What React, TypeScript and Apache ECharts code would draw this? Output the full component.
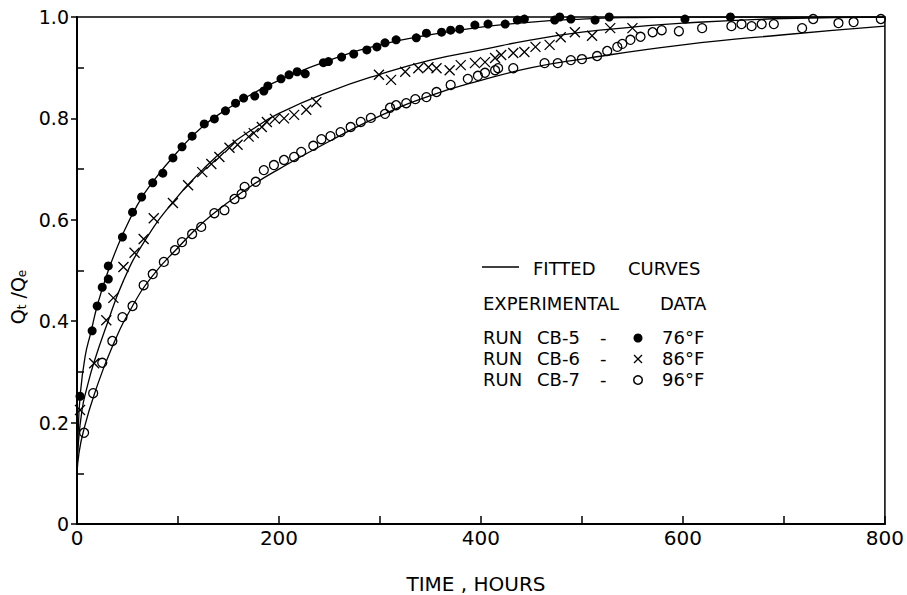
import React, { useEffect, useRef } from "react";
import * as echarts from "echarts";

// ---- data ----
const cb5Points: number[][] = [
  [3, 0.252], [15, 0.381], [20, 0.43], [25, 0.467], [31, 0.483], [31, 0.509], [45, 0.566], [55, 0.615],
  [64, 0.645], [75, 0.673], [85, 0.692], [95, 0.722], [104, 0.744], [114, 0.765], [126, 0.789], [136, 0.799],
  [147, 0.815], [157, 0.83], [165, 0.84], [176, 0.844], [185, 0.854], [189, 0.864], [202, 0.878], [210, 0.886],
  [218, 0.892], [226, 0.888], [244, 0.91], [249, 0.912], [262, 0.921], [274, 0.927], [287, 0.935], [297, 0.941],
  [305, 0.949], [316, 0.955], [336, 0.959], [346, 0.968], [361, 0.97], [370, 0.974], [379, 0.976], [394, 0.984],
  [407, 0.986], [424, 0.986], [436, 0.994], [443, 0.996], [473, 0.994], [478, 1.0], [489, 0.996], [502, 1.003],
  [513, 0.994], [527, 1.0], [602, 0.996], [647, 1.0],
];

const cb6Points: number[][] = [
  [3, 0.225], [17, 0.317], [29, 0.402], [36, 0.446], [46, 0.507], [57, 0.535], [66, 0.562], [76, 0.603],
  [95, 0.633], [110, 0.668], [124, 0.694], [133, 0.71], [141, 0.724], [151, 0.742], [159, 0.748], [170, 0.764],
  [175, 0.771], [183, 0.783], [188, 0.793], [196, 0.799], [205, 0.8], [215, 0.807], [227, 0.817], [237, 0.832],
  [299, 0.886], [311, 0.876], [325, 0.892], [338, 0.899], [348, 0.901], [356, 0.899], [369, 0.895], [380, 0.905],
  [394, 0.909], [404, 0.911], [414, 0.919], [420, 0.925], [432, 0.929], [443, 0.931], [454, 0.941], [468, 0.945],
  [479, 0.96], [493, 0.97], [510, 0.963], [528, 0.978], [550, 0.978],
];

const cb7Points: number[][] = [
  [7, 0.18], [16, 0.258], [25, 0.318], [35, 0.361], [45, 0.408], [55, 0.43], [66, 0.471], [75, 0.493],
  [86, 0.517], [97, 0.54], [104, 0.556], [114, 0.572], [123, 0.586], [136, 0.613], [146, 0.619], [156, 0.641],
  [163, 0.651], [166, 0.665], [177, 0.675], [185, 0.698], [195, 0.708], [205, 0.718], [215, 0.724], [222, 0.734],
  [234, 0.746], [242, 0.759], [251, 0.765], [261, 0.773], [271, 0.783], [281, 0.793], [291, 0.801], [305, 0.809],
  [310, 0.821], [316, 0.826], [326, 0.83], [335, 0.838], [346, 0.842], [356, 0.852], [370, 0.866], [387, 0.878],
  [397, 0.884], [404, 0.89], [414, 0.895], [417, 0.899], [432, 0.899], [463, 0.909], [476, 0.909], [489, 0.915],
  [500, 0.917], [515, 0.923], [525, 0.933], [535, 0.941], [540, 0.947], [548, 0.955], [558, 0.961], [570, 0.97],
  [579, 0.974], [596, 0.972], [619, 0.978], [648, 0.982], [658, 0.986], [668, 0.982], [678, 0.986], [690, 0.986],
  [718, 0.978], [729, 0.996], [754, 0.988], [769, 0.99], [796, 0.996],
];

const fit5T = [0, 1, 3, 8, 14, 20, 31, 45, 60, 75, 100, 125, 150, 175, 200, 250, 300, 350, 400, 450, 500, 550, 600, 800];
const fit5V = [0.1, 0.17, 0.25, 0.33, 0.38, 0.43, 0.5, 0.57, 0.63, 0.675, 0.735, 0.785, 0.82, 0.85, 0.875, 0.915, 0.945, 0.965, 0.98, 0.99, 0.996, 0.999, 1.0, 1.0];

const fit6T = [0, 1, 5, 10, 17, 29, 46, 66, 95, 125, 150, 175, 200, 250, 300, 350, 400, 450, 500, 550, 600, 700, 800];
const fit6V = [0.1, 0.15, 0.225, 0.27, 0.32, 0.39, 0.48, 0.555, 0.635, 0.7, 0.745, 0.78, 0.81, 0.853, 0.887, 0.915, 0.935, 0.955, 0.97, 0.98, 0.988, 0.997, 1.0];

const fit7T = [0, 2, 6, 17, 35, 55, 75, 100, 125, 150, 175, 200, 250, 300, 350, 400, 450, 500, 600, 700, 800];
const fit7V = [0.1, 0.14, 0.18, 0.255, 0.35, 0.43, 0.49, 0.545, 0.595, 0.635, 0.67, 0.7, 0.755, 0.805, 0.845, 0.875, 0.9, 0.917, 0.945, 0.965, 0.982];

const xLabelTicks = [0, 200, 400, 600, 800];

const legendRuns = ["RUN", "RUN", "RUN"];
const legendCodes = ["CB-5", "CB-6", "CB-7"];
const legendTemps = ["76°F", "86°F", "96°F"];

const FONT = "DejaVu Sans";

const zip = (t: number[], v: number[]) => t.map((x, i) => [x, v[i]]);

export default function App() {
  const ref = useRef<HTMLDivElement>(null);

  useEffect(() => {
    if (!ref.current) return;
    const chart = echarts.init(ref.current, undefined, { renderer: "svg" });

    const txt = (text: string, x: number, y: number, extra: any = {}) => ({
      type: "text",
      x,
      y,
      style: {
        text,
        fill: "#000",
        font: `18px "${FONT}"`,
        verticalAlign: "middle",
        align: "left",
        ...extra,
      },
    });

    const rowY = [337, 358, 379];
    const graphics: any[] = [
      { type: "line", shape: { x1: 482, y1: 267, x2: 519, y2: 267 }, style: { stroke: "#000", lineWidth: 1.3 } },
      txt("FITTED", 533, 268),
      txt("CURVES", 628, 268),
      txt("EXPERIMENTAL", 483, 303),
      txt("DATA", 660, 303),
    ];
    rowY.forEach((y, i) => {
      graphics.push(txt(legendRuns[i], 483, y));
      graphics.push(txt(legendCodes[i], 537, y));
      graphics.push(txt("-", 600, y));
      graphics.push(txt(legendTemps[i], 662, y));
    });
    graphics.push({ type: "circle", shape: { cx: 638, cy: rowY[0] + 1, r: 4.5 }, style: { fill: "#000" } });
    graphics.push({
      type: "line",
      shape: { x1: 634, y1: rowY[1] - 3, x2: 642, y2: rowY[1] + 5 },
      style: { stroke: "#000", lineWidth: 1.3 },
    });
    graphics.push({
      type: "line",
      shape: { x1: 642, y1: rowY[1] - 3, x2: 634, y2: rowY[1] + 5 },
      style: { stroke: "#000", lineWidth: 1.3 },
    });
    graphics.push({
      type: "circle",
      shape: { cx: 638, cy: rowY[2] + 1, r: 4.3 },
      style: { fill: "none", stroke: "#000", lineWidth: 1.5 },
    });
    // axis titles
    graphics.push({
      type: "text",
      x: 476,
      y: 584,
      style: { text: "TIME , HOURS", fill: "#000", font: `20px "${FONT}"`, align: "center", verticalAlign: "middle" },
    });
    graphics.push({
      type: "text",
      x: 18,
      y: 297,
      rotation: Math.PI / 2,
      style: {
        text: "{q|Q}{s|t}{q| /Q}{s|e}",
        fill: "#000",
        align: "center",
        verticalAlign: "middle",
        rich: {
          q: { fontSize: 19, fontFamily: FONT, fill: "#000", verticalAlign: "middle" },
          s: { fontSize: 12, fontFamily: FONT, fill: "#000", verticalAlign: "bottom", padding: [8, 0, 0, 0] },
        },
      },
    });

    const lineSeries = (data: number[][]) => ({
      type: "line",
      data,
      showSymbol: false,
      smooth: 0.5,
      lineStyle: { color: "#000", width: 1.3 },
      z: 3,
      silent: true,
    });

    chart.setOption({
      animation: false,
      backgroundColor: "#fff",
      grid: { left: 77, right: 18, top: 17, bottom: 71, show: true, borderColor: "#000", borderWidth: 1.5 },
      xAxis: {
        type: "value",
        min: 0,
        max: 800,
        interval: 100,
        axisLine: { show: true, lineStyle: { color: "#000", width: 2 } },
        axisTick: { show: true, inside: true, length: 8, lineStyle: { color: "#000", width: 1.5 } },
        splitLine: { show: false },
        axisLabel: {
          color: "#000",
          fontSize: 20,
          fontFamily: FONT,
          margin: 4,
          customValues: xLabelTicks,
          formatter: (v: number) => String(v),
        },
      },
      yAxis: [
        {
          type: "value",
          min: 0,
          max: 1,
          interval: 0.2,
          axisLine: { show: true, lineStyle: { color: "#000", width: 2 } },
          axisTick: { show: true, inside: false, length: 6, lineStyle: { color: "#000", width: 1.5 } },
          splitLine: { show: false },
          axisLabel: {
            color: "#000",
            fontSize: 19,
            fontFamily: FONT,
            margin: 8,
            formatter: (v: number) => (v === 0 ? "0" : v.toFixed(1)),
          },
        },
        {
          type: "value",
          min: 0,
          max: 1,
          interval: 0.2,
          position: "left",
          axisLine: { show: false },
          axisLabel: { show: false },
          splitLine: { show: false },
          axisTick: { show: false, inside: true },
          minorTick: {
            show: true,
            splitNumber: 2,
            length: 7,
            lineStyle: { color: "#000", width: 1.5 },
          },
          minorSplitLine: { show: false },
        },
      ],
      series: [
        lineSeries(zip(fit5T, fit5V)),
        lineSeries(zip(fit6T, fit6V)),
        lineSeries(zip(fit7T, fit7V)),
        {
          type: "scatter",
          data: cb5Points,
          symbol: "circle",
          symbolSize: 9,
          itemStyle: { color: "#000", opacity: 1 },
          z: 4,
        },
        {
          type: "scatter",
          data: cb6Points,
          symbol: "path://M0,0L10,10M0,10L10,0",
          symbolSize: 10,
          itemStyle: { color: "rgba(0,0,0,0)", borderColor: "#000", borderWidth: 1.3, opacity: 1 },
          z: 4,
        },
        {
          type: "scatter",
          data: cb7Points,
          symbol: "circle",
          symbolSize: 9,
          itemStyle: { color: "rgba(0,0,0,0)", borderColor: "#000", borderWidth: 1.3, opacity: 1 },
          z: 4,
        },
      ],
      graphic: graphics,
    });

    return () => chart.dispose();
  }, []);

  return <div ref={ref} style={{ width: 907, height: 595, position: "absolute", left: 0, top: 0 }} />;
}
